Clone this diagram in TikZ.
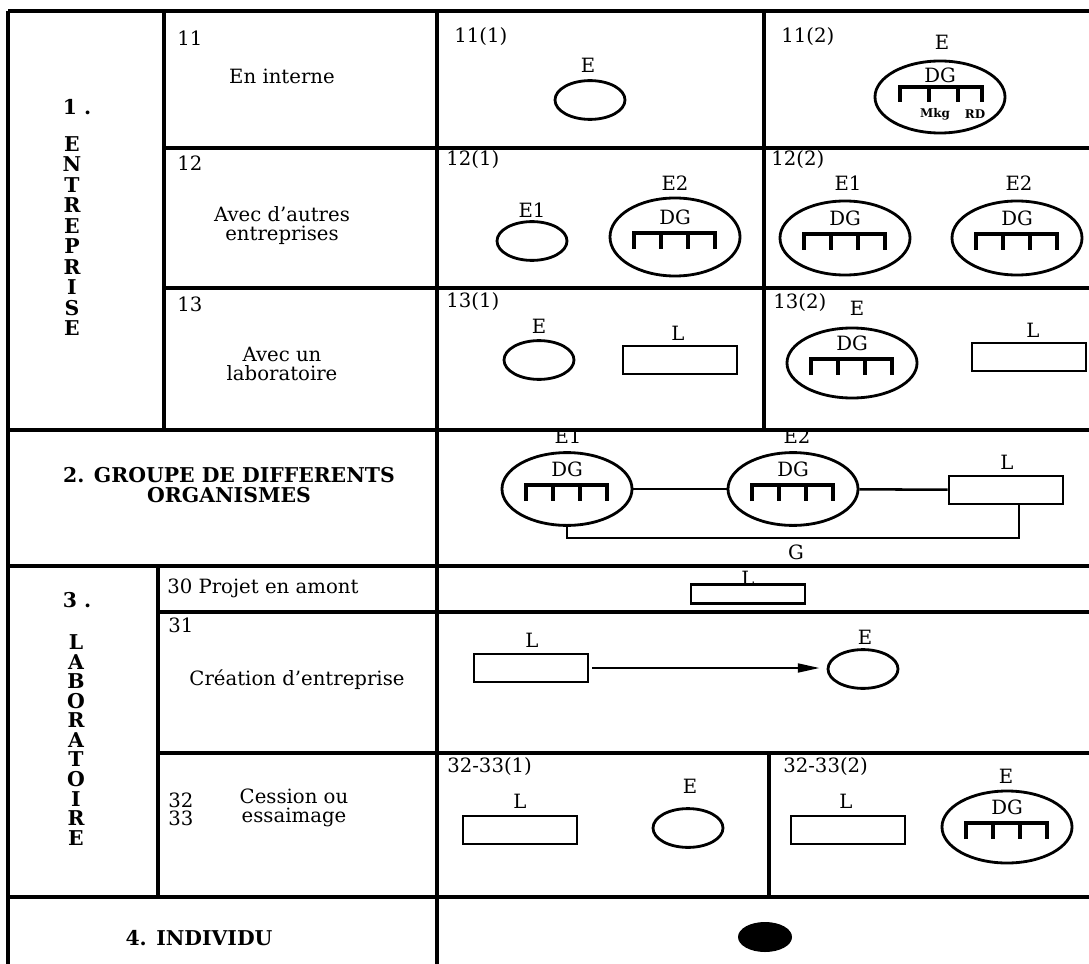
\documentclass[tikz,border=0pt]{standalone}
\usepackage{fontspec}
\setmainfont{DejaVu Serif}
\usetikzlibrary{positioning, arrows.meta, shapes.geometric}

\tikzset{
  rule/.style={line width=2.5pt},
  cell/.style={font=\fontsize{14}{13.5}\selectfont, align=center, inner sep=0pt},
  num/.style={font=\fontsize{14}{13}\selectfont, anchor=west, align=left, inner sep=0pt},
  head/.style={font=\bfseries\fontsize{14.5}{14}\selectfont, align=center, inner sep=0pt},
  vert/.style={font=\bfseries\fontsize{14.5}{14.6}\selectfont, align=center, inner sep=0pt},
  lbl/.style={font=\fontsize{14}{16}\selectfont, inner sep=0pt},
  ent/.style={ellipse, draw, line width=2pt, minimum width=1.75cm, minimum height=0.97cm, inner sep=0pt},
  entdg/.style={ent, minimum width=3.25cm, minimum height=1.85cm},
  lab/.style={rectangle, draw, line width=2pt, minimum width=2.85cm, minimum height=0.7cm, inner sep=0pt},
  comb/.style={line width=2.2pt},
  link/.style={line width=1.8pt},
}

% direction generale + services, drawn inside an entreprise node
\newcommand{\dgcomb}[1]{%
  \draw[comb, shift={(#1.center)}] (-41,12) |- (40,-4) -- (40,12)
    (-14,-4) -- (-14,12) (13,-4) -- (13,12);
  \node[lbl] (#1dg) at ([yshift=0.5cm]#1.center) {DG};
}

\begin{document}
\begin{tikzpicture}[x=0.025cm, y=-0.025cm]
\useasboundingbox (0,0) rectangle (1089,964);

% grid of the table
\foreach \y in {11,430,566,897}
  \draw[rule] (8,\y) -- (1089,\y);
\foreach \y in {148,288}
  \draw[rule] (164,\y) -- (1089,\y);
\foreach \y in {612,753}
  \draw[rule] (158,\y) -- (1089,\y);
\draw[rule] (8,11) -- (8,964);
\draw[rule] (437,11) -- (437,964);
\draw[rule] (164,11) -- (164,430);
\draw[rule] (764,11) -- (764,430);
\draw[rule] (158,566) -- (158,897);
\draw[rule] (769,753) -- (769,897);

% 1. entreprise
\node[vert] (s1num) at (77,107) {1 .};
\node[vert] (s1name) at (72,236) {E\\N\\T\\R\\E\\P\\R\\I\\S\\E};
\node[num] (n11) at (177,38) {11};
\node[cell] (t11) at (282,76) {En interne};
\node[num] (n12) at (177,163) {12};
\node[cell] (t12) at (282,226) {Avec d'autres\\entreprises};
\node[num] (n13) at (177,304) {13};
\node[cell] (t13) at (282,364) {Avec un\\laboratoire};

\node[num] (n111) at (454,37) {11(1)};
\node[ent] (e111) at (590,100) {};
\node[lbl] (e111t) at (588,65) {E};

\node[num] (n112) at (781,37) {11(2)};
\node[entdg, minimum height=1.8cm] (e112) at (940,97) {};
\node[lbl] (e112t) at (942,42) {E};
\draw[comb, shift={(e112.center)}] (-40,5) |- (42,-10) -- (42,5)
  (-11,-10) -- (-11,5) (18,-10) -- (18,5);
\node[lbl] (e112dg) at ([yshift=0.53cm]e112.center) {DG};
\node[font=\bfseries\fontsize{8.5}{9}\selectfont, inner sep=0pt] (mkg) at (935,114) {Mkg};
\node[font=\bfseries\fontsize{8.5}{9}\selectfont, inner sep=0pt] (rd) at (975,114) {RD};

\node[num] (n121) at (446,160) {12(1)};
\node[ent] (e121) at (532,241) {};
\node[lbl] (e121t) at (532,210) {E1};
\node[entdg, minimum height=1.95cm] (e122) at (675,237) {};
\node[lbl] (e122t) at (675,183) {E2};
\dgcomb{e122}

\node[num] (n122) at (771,160) {12(2)};
\node[entdg] (e12b1) at (845,238) {};
\node[lbl] (e12b1t) at (848,183) {E1};
\dgcomb{e12b1}
\node[entdg] (e12b2) at (1017,238) {};
\node[lbl] (e12b2t) at (1019,183) {E2};
\dgcomb{e12b2}

\node[num] (n131) at (446,302) {13(1)};
\node[ent] (e131) at (539,360) {};
\node[lbl] (e131t) at (539,326) {E};
\node[lab] (l131) at (680,360) {};
\node[lbl] (l131t) at (678,333) {L};

\node[num] (n132) at (773,303) {13(2)};
\node[entdg, minimum height=1.75cm] (e132) at (852,363) {};
\node[lbl] (e132t) at (857,308) {E};
\dgcomb{e132}
\node[lab] (l132) at (1029,357) {};
\node[lbl] (l132t) at (1033,330) {L};

% 2. groupe
\node[head] (s2) at (229,485) {2. GROUPE DE DIFFERENTS\\ORGANISMES};
\node[entdg, minimum height=1.82cm] (e21) at (567,489) {};
\node[lbl] (e21t) at (568,436) {E1};
\dgcomb{e21}
\node[entdg, minimum height=1.82cm] (e22) at (793,489) {};
\node[lbl] (e22t) at (797,436) {E2};
\dgcomb{e22}
\node[lab] (l2) at (1006,490) {};
\node[lbl] (l2t) at (1007,462) {L};
\draw[link] (e21) -- (e22);
\draw[link] (e22) -- (l2);
\coordinate (g2r) at (1019,538);
\draw[link] (e21.south) |- (g2r) -- (g2r |- l2.south);
\node[lbl] (g2) at (796,552) {G};

% 3. laboratoire
\node[vert] (s3num) at (77,600) {3 .};
\node[vert, font=\bfseries\fontsize{14.5}{13.9}\selectfont] (s3name) at (76,740) {L\\A\\B\\O\\R\\A\\T\\O\\I\\R\\E};
\node[num] (n30) at (167,588) {30 Projet en amont};
\node[lab, minimum height=0.48cm] (l30) at (748,594) {};
\node[lbl] (l30t) at (748,578) {L};

\node[num] (n31) at (168,625) {31};
\node[cell] (t31) at (297,680) {Création d'entreprise};
\node[lab] (l31) at (531,668) {};
\node[lbl] (l31t) at (532,640) {L};
\node[ent] (e31) at (863,669) {};
\node[lbl] (e31t) at (865,637) {E};
\draw[link, -{Triangle[length=0.55cm, width=0.22cm]}, shorten <=0.07cm, shorten >=0.17cm]
  (l31.east) -- (l31.east -| e31.west);

\node[num] (n32) at (168,809) {32\\33};
\node[cell] (t32) at (294,808) {Cession ou\\essaimage};
\node[num] (n321) at (447,767) {32-33(1)};
\node[lab] (l321) at (520,830) {};
\node[lbl] (l321t) at (520,801) {L};
\node[ent] (e321) at (688,828) {};
\node[lbl] (e321t) at (690,786) {E};
\node[num] (n322) at (783,767) {32-33(2)};
\node[lab] (l322) at (848,830) {};
\node[lbl] (l322t) at (846,801) {L};
\node[entdg, minimum height=1.8cm] (e322) at (1007,827) {};
\node[lbl] (e322t) at (1006,776) {E};
\dgcomb{e322}

% 4. individu
\node[head] (s4) at (199,938) {4. INDIVIDU};
\node[ellipse, fill, minimum width=1.35cm, minimum height=0.75cm, inner sep=0pt] (ind) at (765,937) {};
\end{tikzpicture}
\end{document}
